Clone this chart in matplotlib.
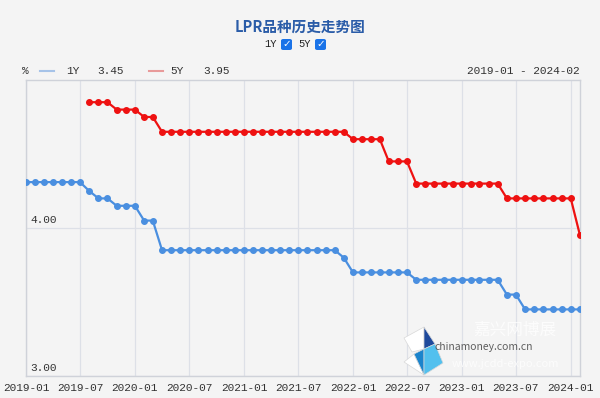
import matplotlib
matplotlib.use("Agg")
import matplotlib.pyplot as plt
from matplotlib.patches import FancyBboxPatch, Polygon
import pandas as pd

plt.rcParams["font.family"] = ["Noto Sans CJK SC", "DejaVu Sans"]

# monthly LPR quotes (%)
months_1y = pd.date_range("2019-01-01", "2024-02-01", freq="MS")
rate_1y = [4.31, 4.31, 4.31, 4.31, 4.31, 4.31, 4.31, 4.25, 4.20, 4.20, 4.15, 4.15,
           4.15, 4.05, 4.05, 3.85, 3.85, 3.85, 3.85, 3.85, 3.85, 3.85, 3.85, 3.85,
           3.85, 3.85, 3.85, 3.85, 3.85, 3.85, 3.85, 3.85, 3.85, 3.85, 3.85, 3.80,
           3.70, 3.70, 3.70, 3.70, 3.70, 3.70, 3.70, 3.65, 3.65, 3.65, 3.65, 3.65,
           3.65, 3.65, 3.65, 3.65, 3.65, 3.55, 3.55, 3.45, 3.45, 3.45, 3.45, 3.45,
           3.45, 3.45]
months_5y = pd.date_range("2019-08-01", "2024-02-01", freq="MS")
rate_5y = [4.85, 4.85, 4.85, 4.80, 4.80,
           4.80, 4.75, 4.75, 4.65, 4.65, 4.65, 4.65, 4.65, 4.65, 4.65, 4.65, 4.65,
           4.65, 4.65, 4.65, 4.65, 4.65, 4.65, 4.65, 4.65, 4.65, 4.65, 4.65, 4.65,
           4.60, 4.60, 4.60, 4.60, 4.45, 4.45, 4.45, 4.30, 4.30, 4.30, 4.30, 4.30,
           4.30, 4.30, 4.30, 4.30, 4.30, 4.20, 4.20, 4.20, 4.20, 4.20, 4.20, 4.20,
           4.20, 3.95]
tick_labels = ["2019-01", "2019-07", "2020-01", "2020-07", "2021-01", "2021-07",
               "2022-01", "2022-07", "2023-01", "2023-07", "2024-01"]
y_labels = [3.00, 4.00]

bg = "#f4f4f4"
grid_c = "#dde0e7"
blue = "#4a8fe0"
red = "#ee1111"
mono = ["Liberation Mono", "DejaVu Sans Mono"]


def fx(px):
    return px / 600


def fy(py):
    return 1 - py / 398


fig = plt.figure(figsize=(6, 3.98), dpi=100, facecolor=bg)
ax = fig.add_axes([fx(26), 22 / 398, 554 / 600, 296 / 398])
ax.set_facecolor(bg)

ax.plot(months_1y, rate_1y, color=blue, lw=1.6, marker="o", ms=4, zorder=3)
ax.plot(months_5y, rate_5y, color=red, lw=1.6, marker="o", ms=4, zorder=3)

ax.set_xlim(months_1y[0], months_1y[-1])
ax.set_ylim(3, 5)
ticks = pd.to_datetime([t + "-01" for t in tick_labels])
ax.set_xticks(ticks)
ax.set_xticklabels(tick_labels, family=mono, fontsize=8, color="#333333")
ax.tick_params(axis="x", length=0, pad=5)
ax.set_yticks([])
for t in ticks:
    ax.axvline(t, color=grid_c, lw=0.9, zorder=1)
for v in y_labels:
    ax.axhline(v, color=grid_c, lw=0.9, zorder=1)
    ax.text(0.008, v + 0.02, f"{v:.2f}", transform=ax.get_yaxis_transform(),
            family=mono, fontsize=8, color="#333333", va="bottom", ha="left")
for s in ax.spines.values():
    s.set_color("#cfd2d9")
    s.set_linewidth(1.0)

# title and series switches
fig.text(0.5, fy(27), "LPR品种历史走势图", ha="center", va="center",
         fontsize=10.5, color="#2a5ca8", fontweight="bold")
for label, xc in [("1Y", 277), ("5Y", 311)]:
    fig.text(fx(xc), fy(44), label, ha="right", va="center",
             family=mono, fontsize=7.5, color="#222222")
    box = FancyBboxPatch((fx(xc + 4), fy(50)), 11 / 600, 11 / 398,
                         boxstyle="round,pad=0,rounding_size=0.004",
                         transform=fig.transFigure, fc="#1a73e8", ec="none")
    fig.patches.append(box)
    fig.text(fx(xc + 9.5), fy(44.5), "✓", ha="center", va="center",
             fontsize=7.5, color="white", fontweight="bold", family=["DejaVu Sans"])

# legend row
ly = fy(71)
fig.text(fx(22), ly, "%", ha="left", va="center", family=mono, fontsize=8, color="#333333")
fig.lines.append(plt.Line2D([fx(40), fx(54)], [ly, ly], color="#a6c3e8", lw=1.5,
                            transform=fig.transFigure))
fig.text(fx(66), ly, "1Y", ha="left", va="center", family=mono, fontsize=8, color="#333333")
fig.text(fx(97), ly, f"{rate_1y[-1]:.2f}", ha="left", va="center", family=mono,
         fontsize=8, color="#333333")
fig.lines.append(plt.Line2D([fx(149), fx(163)], [ly, ly], color="#e89a9a", lw=1.5,
                            transform=fig.transFigure))
fig.text(fx(170), ly, "5Y", ha="left", va="center", family=mono, fontsize=8, color="#333333")
fig.text(fx(203), ly, f"{rate_5y[-1]:.2f}", ha="left", va="center", family=mono,
         fontsize=8, color="#333333")
fig.text(fx(580), ly, "2019-01 - 2024-02", ha="right", va="center", family=mono,
         fontsize=8, color="#333333")

# watermark logo
logo = [
    ([(404, 338), (424, 327), (424, 349), (412, 352)], "white"),
    ([(424, 327), (435, 344), (424, 349)], "#1f4a9c"),
    ([(404, 362), (414, 354), (424, 375)], "white"),
    ([(414, 354), (424, 349), (424, 375)], "#1b84cc"),
    ([(424, 349), (435, 344), (443, 363), (424, 375)], "#52c0ee"),
]
for pts, col in logo:
    fig.patches.append(Polygon([(fx(x), fy(y)) for x, y in pts], closed=True,
                               transform=fig.transFigure, fc=col, ec="#d8d8d8",
                               lw=0.5))
fig.text(fx(434), fy(347), "chinamoney.com.cn", ha="left", va="center",
         fontsize=7.5, color="#444444", alpha=0.85)
fig.text(fx(515), fy(330), "嘉兴网博展", ha="center", va="center",
         fontsize=12, color="white", alpha=0.75)
fig.text(fx(505), fy(364), "www.jcdd-expo.com", ha="center", va="center",
         fontsize=8, color="white", alpha=0.75)

fig.savefig("out.png", dpi=100, facecolor=bg)
